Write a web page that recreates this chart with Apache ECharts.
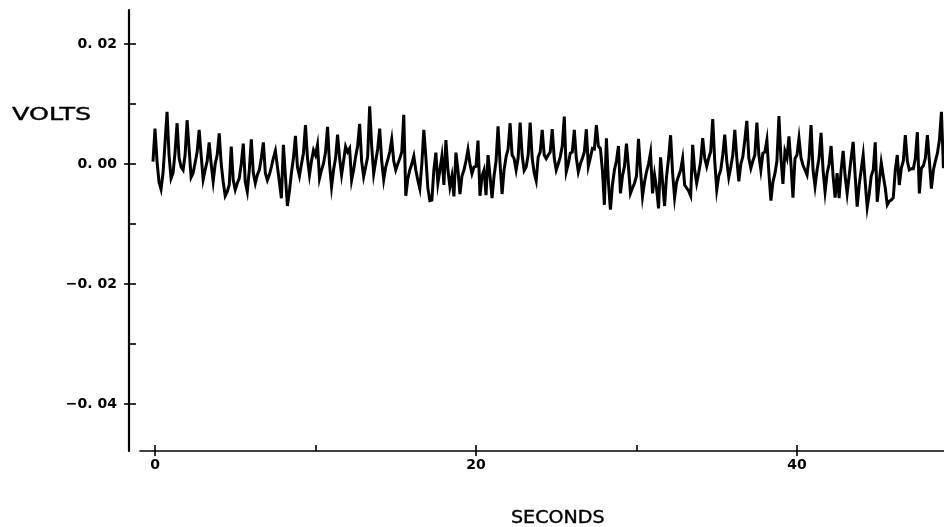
<!DOCTYPE html>
<html><head><meta charset="utf-8">
<script src="https://cdn.jsdelivr.net/npm/echarts@6/dist/echarts.min.js"></script>
<style>html,body{margin:0;padding:0;background:#fff}#c{width:944px;height:527px}</style>
</head><body><div id="c"></div>
<script>
const sampleStart = -0.125, sampleStep = 0.125;
const millivolts = [0.4,
5.9,0.5,-3,-4.2,-1.5,3.5,8.7,1.5,
-2.4,-1.5,2,6.8,1,-0.5,-1,1.5,
7.3,2.5,-2.2,-1.5,0.2,2,5.7,1.5,
-2.6,-1,0.5,3.6,0,-2.9,0,1.5,
5.1,0,-3,-5.3,-4.6,-3.5,2.9,-2.7,
-4.3,-3.2,-2.4,0,3.4,-3,-4.6,-1,
4.1,-1.5,-3.2,-1.8,-1,1,3.6,-1.5,
-2.7,-1.8,-0.5,1,2.2,-0.4,-3,-5.7,
3.2,-2,-7,-4.5,-1.5,1,4.7,-0.5,
-2,0,1.8,6.5,1,-1.8,0.5,2.3,
1.5,3.2,-2.4,-1,0.1,2,6.2,0,
-3.8,-1,1,4.9,1,-1.8,0.5,2.9,
2,2.6,-2.7,-1,1.2,3,6.7,0.5,
-2.1,-0.5,1.2,9.6,3,-1.6,0.5,2.5,
5.9,0.5,-2.6,-0.5,0.7,2,4.1,0.5,
-1,0,0.9,2,8.2,-5.3,-2.5,-1,
0,1.3,-1,-2.7,-4.1,0,5.7,1.2,
-4,-6.1,-6,-1,1.9,-3.2,-1,1.3,
-3.5,4,-1,-3.8,-2,-5.4,1.9,-1,
-5,-2,-1,0.5,2.4,0,-1.6,-0.5,
-0.4,3.9,-5.3,-2,-1,-5.2,1.5,-2,
-5.7,-2,0.5,6.3,0,-5,-1,1.2,
2.5,6.8,1.5,0.9,-1,1,6.9,1.5,
-1.1,-0.5,1.5,6.9,1,-1.5,-2.8,1.2,
2,5.7,1.5,0.9,1.5,2,5.8,1,
-1,0,1.2,3,7.9,-1.3,0,1.8,
2,5.7,1,-1.3,0,0.9,2,5.8,
-0.4,1,2.6,2.5,6.5,3,2.6,-1,
-6.8,4.3,-3,-7.6,-3.5,-1,0.5,3,
-4.9,-2,-0.4,3.4,-0.5,-4.9,-4,-3.2,
-2,4.2,-1,-5.4,-3,-1.3,0,1.9,
-4.9,-1.8,-4,-7.4,1.1,-3,-7,-2,
1,4.8,-1.5,-5.6,-3,-2,-1,0.9,
-3.5,-4,-4.5,-5.3,3.2,-1,-3.2,-1.5,
0.5,4.3,1,-0.4,1,2.1,7.5,0.5,
-4.3,-2,-1,1.5,4.9,0.5,-2.2,-0.5,
1.5,5.7,1,-2.9,0,1.2,4,7.2,
1,-0.7,0.5,1.5,6.9,1.5,-1,1.8,
2,4,-1.5,-6.1,-3,-1.6,0.5,8,
1,-3.3,2.1,1,4.6,0,-5.6,0.9,
1.5,4.3,1,-0.2,-1,-1.8,1,6.5,
-1,-3.7,-1,1,5.2,-1,-4.6,-1.6,
0,3,-2,-5.6,-1.5,-5.7,-1,2.2,
-2,-4.9,-2,1,3.7,-2,-7.1,-3.5,
-1,1.5,-3,-7.2,-5,-2,-1,3.6,
-6.3,-3,0.2,-2,-4,-6.8,-6.2,-6,
-5.6,-1,1.5,-3.5,-0.7,0.5,4.8,0.5,
-1,-0.8,-0.8,1,5.3,-4.9,-0.7,-0.3,
1,4.8,0.5,-4.1,-1,0.5,1.8,4,
8.7,-0.7];
const yMajorTicks = [0.02,0,-0.02,-0.04];
const yAllTicks = [0.02,0.01,0,-0.01,-0.02,-0.03,-0.04];
const yTickLabels = ['0. 02','0. 00','\u22120. 02','\u22120. 04'];
const xMajorTicks = [0,20,40];
const xAllTicks = [0,10,20,30,40];
const yName = 'VOLTS', xName = 'SECONDS';

const ink = '#000';
const data = millivolts.map((mv,i)=>[sampleStart+i*sampleStep, mv/1000]);
const xRange = {min:-0.935,max:49.16}, yRange = {min:-0.04783,max:0.02567};
const labelFont = {fontFamily:'DejaVu Sans',fontWeight:'bold',fontSize:14,color:ink};
const chart = echarts.init(document.getElementById('c'),null,{renderer:'canvas'});
chart.setOption({
  animation:false,
  backgroundColor:'#fff',
  grid:{left:140,right:0,top:10,bottom:76,containLabel:false},
  xAxis:[
    {type:'value',...xRange,position:'bottom',splitLine:{show:false},
     axisLine:{show:true,onZero:false,lineStyle:{color:ink,width:1.6}},
     axisTick:{show:true,length:5,lineStyle:{color:ink,width:1.6},customValues:xMajorTicks},
     axisLabel:{show:true,margin:7,...labelFont,customValues:xMajorTicks,formatter:v=>String(v)}},
    {type:'value',...xRange,position:'bottom',splitLine:{show:false},
     axisLine:{show:false,onZero:false},
     axisTick:{show:true,inside:true,length:6,lineStyle:{color:ink,width:1.6},customValues:xAllTicks},
     axisLabel:{show:false}}
  ],
  yAxis:[
    {type:'value',...yRange,position:'left',offset:11,splitLine:{show:false},
     axisLine:{show:true,onZero:false,lineStyle:{color:ink,width:2.2}},
     axisTick:{show:true,length:5,lineStyle:{color:ink,width:1.6},customValues:yMajorTicks},
     axisLabel:{show:true,margin:12,...labelFont,customValues:yMajorTicks,
       formatter:v=>{const i=yMajorTicks.findIndex(m=>Math.abs(m-v)<1e-6);return i<0?'':yTickLabels[i];}}},
    {type:'value',...yRange,position:'left',offset:11,splitLine:{show:false},
     axisLine:{show:false,onZero:false},
     axisTick:{show:true,inside:true,length:7,lineStyle:{color:ink,width:1.6},customValues:yAllTicks},
     axisLabel:{show:false}}
  ],
  series:[{type:'line',data,xAxisIndex:0,yAxisIndex:0,showSymbol:false,smooth:false,
    lineStyle:{color:ink,width:3,join:'miter'},clip:true}],
  graphic:[
    {type:'text',x:12,y:106,scaleX:1.41,style:{text:yName,fontFamily:'DejaVu Sans',fontSize:18,fill:ink,stroke:ink,lineWidth:0.4}},
    {type:'text',x:511,y:509,scaleX:1.06,style:{text:xName,fontFamily:'DejaVu Sans',fontSize:18,fill:ink,stroke:ink,lineWidth:0.4}}
  ]
});
</script></body></html>
